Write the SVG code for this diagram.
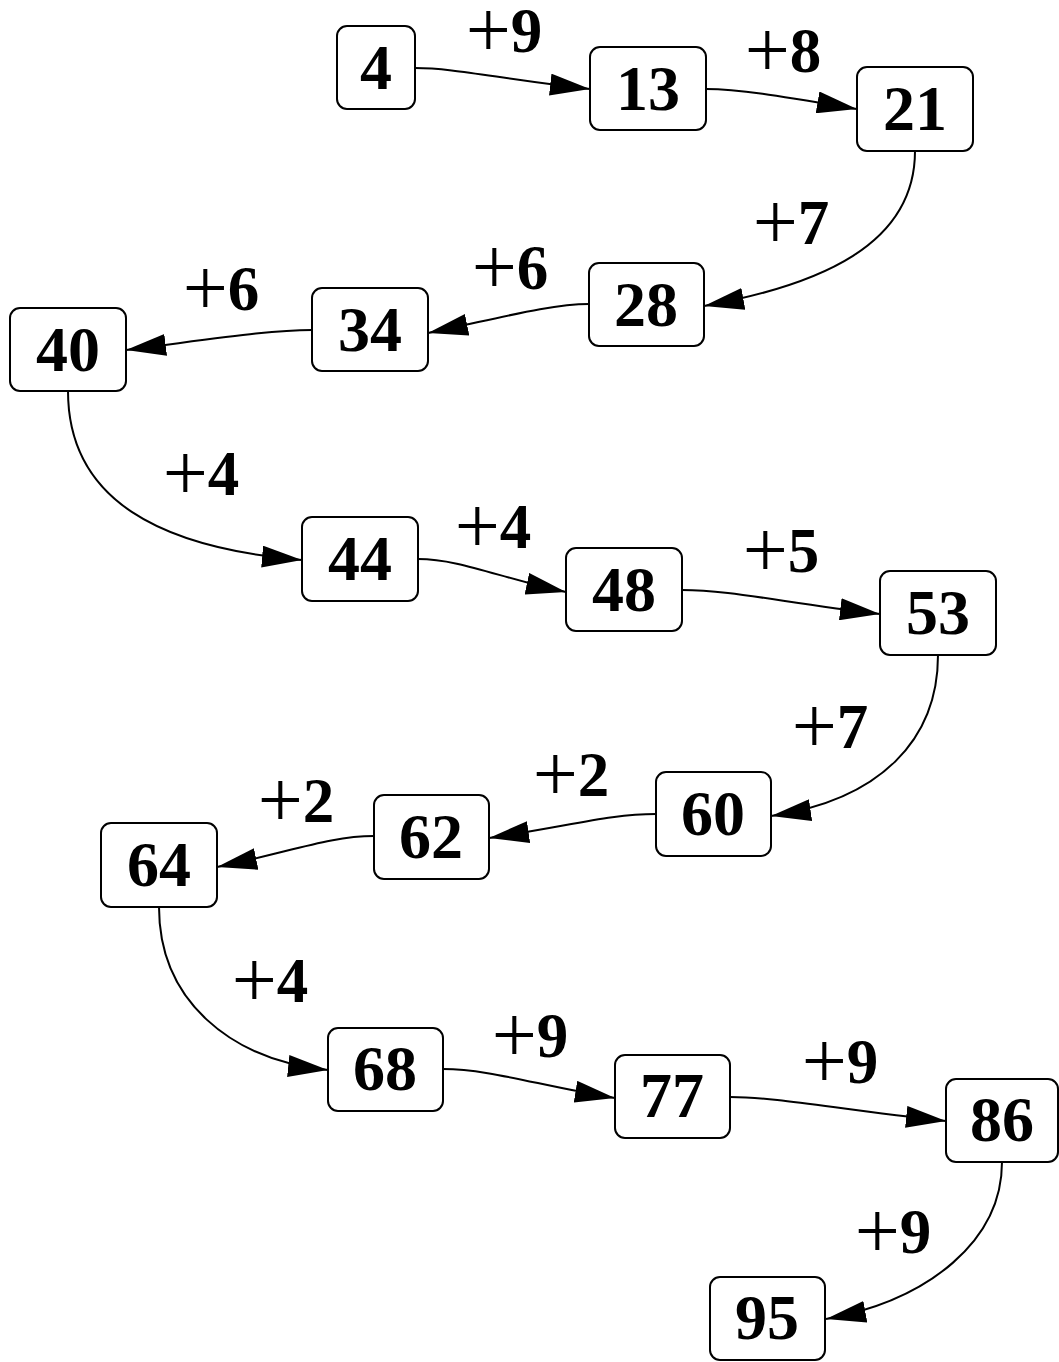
<svg xmlns="http://www.w3.org/2000/svg" width="1059" height="1362" viewBox="0 0 1059 1362">
<style>
.n rect{fill:#fff;stroke:#000;stroke-width:2}
.n text{font-family:"Liberation Serif",serif;font-weight:bold;font-size:64px;text-anchor:middle;fill:#000}
.e path{fill:none;stroke:#000;stroke-width:2}
.e text{font-family:"Liberation Serif",serif;font-weight:bold;font-size:63px;text-anchor:middle;fill:#000}
.e .p{font-weight:normal;font-size:80px}
</style>
<defs>
<marker id="a" markerUnits="userSpaceOnUse" markerWidth="42" markerHeight="22" refX="40" refY="11" orient="auto">
<path d="M0,0 L40,11 L0,22 z" fill="#000"/>
</marker>
</defs>
<rect width="1059" height="1362" fill="#fff"/>
<g id="edges" class="e">
<path marker-end="url(#a)" d="M415,68 C455,68 500,79 590,89"/>
<text x="504" y="52"><tspan class="p" dy="5">+</tspan><tspan dy="-5">9</tspan></text>
<path marker-end="url(#a)" d="M706,89 C740,89 780,96 857,109"/>
<text x="783" y="72"><tspan class="p" dy="5">+</tspan><tspan dy="-5">8</tspan></text>
<path marker-end="url(#a)" d="M915,151 C915,245 820,285 704,306"/>
<text x="791" y="244"><tspan class="p" dy="5">+</tspan><tspan dy="-5">7</tspan></text>
<path marker-end="url(#a)" d="M589,304 C550,304 500,318 428,333"/>
<text x="510" y="289"><tspan class="p" dy="5">+</tspan><tspan dy="-5">6</tspan></text>
<path marker-end="url(#a)" d="M312,330 C270,330 220,338 126,350"/>
<text x="221" y="310"><tspan class="p" dy="5">+</tspan><tspan dy="-5">6</tspan></text>
<path marker-end="url(#a)" d="M68,391 C68,500 160,548 302,560"/>
<text x="201" y="495"><tspan class="p" dy="5">+</tspan><tspan dy="-5">4</tspan></text>
<path marker-end="url(#a)" d="M418,559 C460,559 500,578 566,592"/>
<text x="493" y="548"><tspan class="p" dy="5">+</tspan><tspan dy="-5">4</tspan></text>
<path marker-end="url(#a)" d="M682,590 C730,590 780,602 880,614"/>
<text x="781" y="572"><tspan class="p" dy="5">+</tspan><tspan dy="-5">5</tspan></text>
<path marker-end="url(#a)" d="M938,655 C938,740 880,800 771,816"/>
<text x="830" y="748"><tspan class="p" dy="5">+</tspan><tspan dy="-5">7</tspan></text>
<path marker-end="url(#a)" d="M656,814 C610,814 570,826 489,838"/>
<text x="571" y="796"><tspan class="p" dy="5">+</tspan><tspan dy="-5">2</tspan></text>
<path marker-end="url(#a)" d="M374,836 C330,836 290,852 217,867"/>
<text x="296" y="822"><tspan class="p" dy="5">+</tspan><tspan dy="-5">2</tspan></text>
<path marker-end="url(#a)" d="M159,907 C159,1000 230,1060 328,1070"/>
<text x="270" y="1002"><tspan class="p" dy="5">+</tspan><tspan dy="-5">4</tspan></text>
<path marker-end="url(#a)" d="M443,1069 C490,1069 540,1086 615,1098"/>
<text x="530" y="1057"><tspan class="p" dy="5">+</tspan><tspan dy="-5">9</tspan></text>
<path marker-end="url(#a)" d="M730,1097 C780,1097 840,1110 946,1121"/>
<text x="840" y="1083"><tspan class="p" dy="5">+</tspan><tspan dy="-5">9</tspan></text>
<path marker-end="url(#a)" d="M1002,1162 C1002,1240 930,1300 826,1319"/>
<text x="893" y="1253"><tspan class="p" dy="5">+</tspan><tspan dy="-5">9</tspan></text>
</g>
<g id="n4" class="n"><rect x="337" y="26" width="78" height="83" rx="10"/><text x="376" y="89">4</text></g>
<g id="n13" class="n"><rect x="590" y="47" width="116" height="83" rx="10"/><text x="648" y="110">13</text></g>
<g id="n21" class="n"><rect x="857" y="67" width="116" height="84" rx="10"/><text x="915" y="130">21</text></g>
<g id="n28" class="n"><rect x="589" y="263" width="115" height="83" rx="10"/><text x="646" y="326">28</text></g>
<g id="n34" class="n"><rect x="312" y="288" width="116" height="83" rx="10"/><text x="370" y="351">34</text></g>
<g id="n40" class="n"><rect x="10" y="308" width="116" height="83" rx="10"/><text x="68" y="371">40</text></g>
<g id="n44" class="n"><rect x="302" y="517" width="116" height="84" rx="10"/><text x="360" y="580">44</text></g>
<g id="n48" class="n"><rect x="566" y="548" width="116" height="83" rx="10"/><text x="624" y="611">48</text></g>
<g id="n53" class="n"><rect x="880" y="571" width="116" height="84" rx="10"/><text x="938" y="634">53</text></g>
<g id="n60" class="n"><rect x="656" y="772" width="115" height="84" rx="10"/><text x="713" y="835">60</text></g>
<g id="n62" class="n"><rect x="374" y="795" width="115" height="84" rx="10"/><text x="431" y="858">62</text></g>
<g id="n64" class="n"><rect x="101" y="823" width="116" height="84" rx="10"/><text x="159" y="886">64</text></g>
<g id="n68" class="n"><rect x="328" y="1028" width="115" height="83" rx="10"/><text x="385" y="1090">68</text></g>
<g id="n77" class="n"><rect x="615" y="1055" width="115" height="83" rx="10"/><text x="672" y="1117">77</text></g>
<g id="n86" class="n"><rect x="946" y="1079" width="112" height="83" rx="10"/><text x="1002" y="1141">86</text></g>
<g id="n95" class="n"><rect x="710" y="1277" width="115" height="83" rx="10"/><text x="767" y="1339">95</text></g>
</svg>
